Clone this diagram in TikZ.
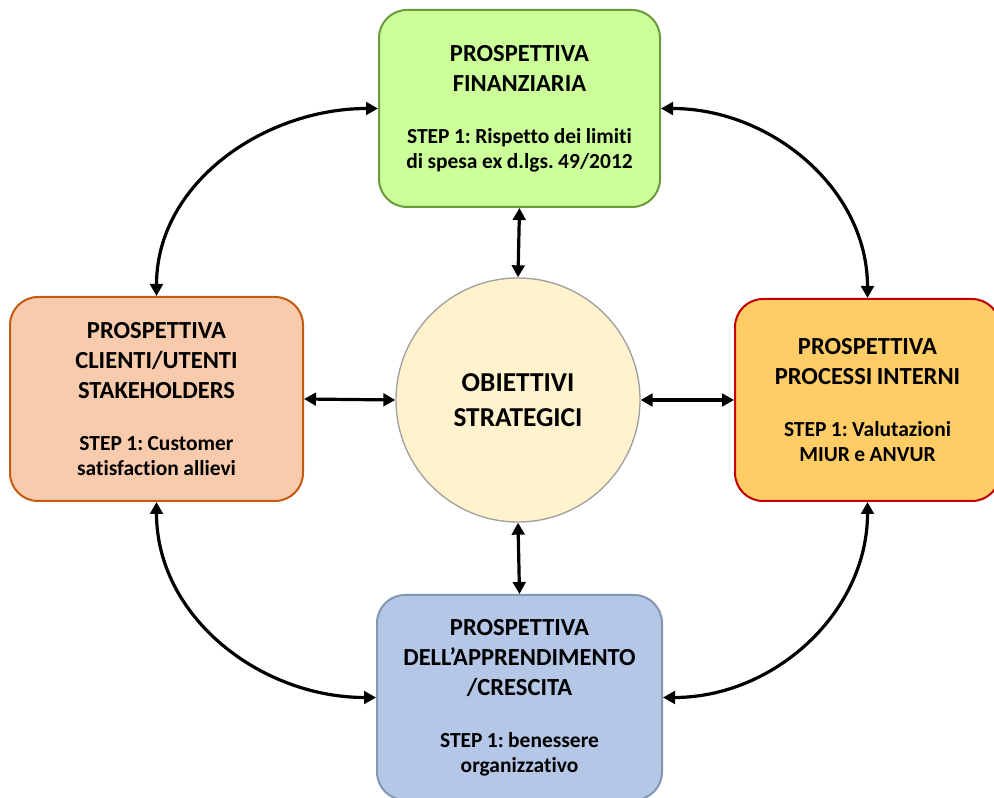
\documentclass[tikz,border=0pt]{standalone}
\usepackage{fontspec}
\setmainfont{Carlito}[Ligatures={TeX,NoCommon}]
\usepackage{xcolor}
\usetikzlibrary{shapes}
\usetikzlibrary{arrows.meta}
\definecolor{finfill}{HTML}{CCFF99}
\definecolor{finline}{HTML}{6A9A3C}
\definecolor{clifill}{HTML}{F8CBAD}
\definecolor{cliline}{HTML}{C55A11}
\definecolor{profill}{HTML}{FFCC66}
\definecolor{proline}{HTML}{C00000}
\definecolor{appfill}{HTML}{B4C7E7}
\definecolor{appline}{HTML}{8497B0}
\definecolor{objfill}{HTML}{FFF2CC}
\definecolor{objline}{HTML}{A0A0A0}
\frenchspacing
\newcommand{\boxtext}[2]{{\fontsize{18.4}{22.5}\selectfont #1\par}\vspace{20.5pt}{\fontsize{16.1}{18.75}\selectfont #2\par}}
\tikzset{persp/.style={draw, rounded corners=21pt, line width=1.5pt, inner sep=0pt, align=center, font=\bfseries}}
\tikzset{link/.style={<->, >={Triangle[length=9pt,width=9.5pt]}, line width=2.4pt}}
\tikzset{goal/.style={circle, draw=objline, fill=objfill, line width=1pt, minimum size=183pt, inner sep=0pt, align=center, font={\bfseries\fontsize{20.5}{26}\selectfont}}}

\begin{document}
\begin{tikzpicture}[x=0.75pt,y=0.75pt]
	\useasboundingbox (0,0) rectangle (994,798);
	% perspectives
	\node [persp, fill=finfill, draw=finline, text width=210.75pt, minimum height=147.75pt] (fin) at (519.5,689.5) {\boxtext{PROSPETTIVA\\FINANZIARIA}{STEP 1: Rispetto dei limiti\\di spesa ex d.lgs. 49/2012}};
	\node [persp, fill=clifill, draw=cliline, text width=219.75pt, minimum height=153pt] (cli) at (156.5,399) {\boxtext{PROSPETTIVA\\CLIENTI/UTENTI\\STAKEHOLDERS}{STEP 1: Customer\\satisfaction allievi}};
	\node [persp, fill=profill, draw=proline, text width=198.75pt, minimum height=151.5pt] (pro) at (867.5,398) {\boxtext{PROSPETTIVA\\PROCESSI INTERNI}{STEP 1: Valutazioni\\MIUR e ANVUR}};
	\node [persp, fill=appfill, draw=appline, text width=213.75pt, minimum height=153.75pt] (app) at (519.5,100.5) {\boxtext{PROSPETTIVA\\DELL’APPRENDIMENTO\\/CRESCITA}{STEP 1: benessere\\organizzativo}};
	% centre
	\node [goal] (obj) at (518,398) {OBIETTIVI\\STRATEGICI};
	% links
	\draw [link] (fin.south) -- (obj.north);
	\draw [link] (cli.east) -- (obj.west);
	\draw [link] (obj.east) -- (pro.west);
	\draw [link] (obj.south) -- (app.north);
	\draw [link] (cli.north) to [out=90, in=180] (fin.west);
	\draw [link] (fin.east) to [out=0, in=90] (pro.north);
	\draw [link] (cli.south) to [out=-90, in=180] (app.west);
	\draw [link] (app.east) to [out=0, in=-90] (pro.south);
\end{tikzpicture}
\end{document}
